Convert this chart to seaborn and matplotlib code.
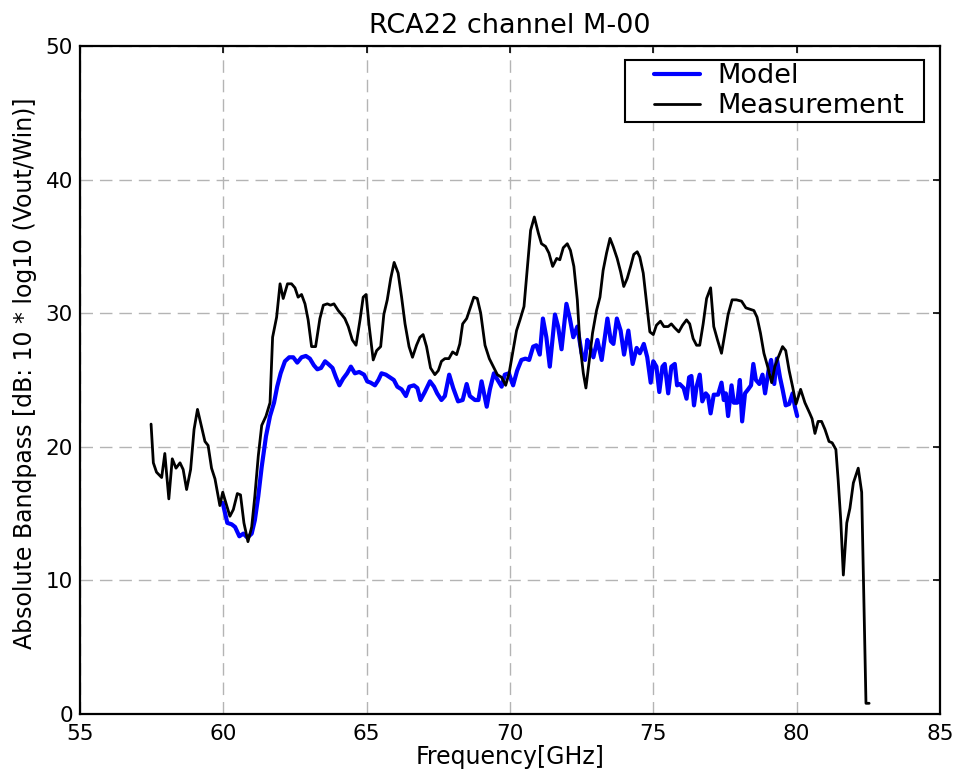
import matplotlib
matplotlib.use("Agg")
import matplotlib.pyplot as plt
from matplotlib.lines import Line2D
from matplotlib.legend_handler import HandlerLine2D
import seaborn as sns
import pandas as pd

# Measured bandpass (frequency in GHz, dB)
meas_freq = [57.48, 57.56, 57.67, 57.85, 57.96, 58.10, 58.22, 58.35, 58.49, 58.60,
             58.72, 58.86, 58.98, 59.10, 59.24, 59.36, 59.47, 59.59, 59.71, 59.88,
             59.98, 60.09, 60.23, 60.35, 60.49, 60.60, 60.72, 60.86, 60.99, 61.10,
             61.22, 61.34, 61.49, 61.63, 61.72, 61.86, 61.98, 62.09, 62.24, 62.38,
             62.50, 62.61, 62.73, 62.85, 62.96, 63.08, 63.22, 63.37, 63.49, 63.63,
             63.74, 63.86, 64.01, 64.13, 64.24, 64.36, 64.50, 64.63, 64.77, 64.88,
             64.98, 65.09, 65.23, 65.35, 65.49, 65.60, 65.72, 65.84, 65.96, 66.10,
             66.22, 66.34, 66.48, 66.60, 66.74, 66.86, 66.97, 67.09, 67.23, 67.38,
             67.50, 67.61, 67.73, 67.87, 68.00, 68.14, 68.25, 68.35, 68.49, 68.63,
             68.74, 68.86, 68.98, 69.13, 69.28, 69.42, 69.56, 69.71, 69.85, 69.97,
             70.11, 70.23, 70.35, 70.49, 70.58, 70.72, 70.85, 70.99, 71.10, 71.24,
             71.36, 71.49, 71.63, 71.74, 71.86, 72.00, 72.11, 72.23, 72.35, 72.44,
             72.56, 72.65, 72.77, 72.88, 73.02, 73.14, 73.25, 73.37, 73.49, 73.60,
             73.74, 73.86, 73.97, 74.09, 74.21, 74.32, 74.44, 74.53, 74.65, 74.77,
             74.88, 75.00, 75.11, 75.25, 75.37, 75.52, 75.63, 75.75, 75.89, 76.02,
             76.16, 76.27, 76.39, 76.51, 76.62, 76.74, 76.86, 77.00, 77.11, 77.24,
             77.38, 77.50, 77.61, 77.75, 77.90, 78.08, 78.23, 78.37, 78.51, 78.62,
             78.74, 78.86, 78.99, 79.13, 79.24, 79.36, 79.51, 79.62, 79.74, 79.86,
             79.98, 80.14, 80.29, 80.46, 80.54, 80.64, 80.75, 80.87, 80.99, 81.13,
             81.24, 81.37, 81.45, 81.54, 81.63, 81.75, 81.86, 81.98, 82.15, 82.27,
             82.35, 82.42, 82.53]
meas_db = [21.7, 18.8, 18.1, 17.7, 19.5, 16.1, 19.1, 18.4, 18.8, 18.3,
           16.8, 18.3, 21.3, 22.8, 21.5, 20.4, 20.1, 18.4, 17.6, 15.6,
           16.6, 15.8, 14.8, 15.3, 16.5, 16.4, 14.3, 12.9, 14.0, 16.3,
           19.3, 21.6, 22.3, 23.3, 28.2, 29.7, 32.2, 31.1, 32.2, 32.2,
           31.9, 31.2, 31.4, 30.7, 29.5, 27.5, 27.5, 29.6, 30.6, 30.7,
           30.6, 30.7, 30.2, 29.9, 29.6, 29.0, 28.0, 27.6, 29.5, 31.2,
           31.4, 29.0, 26.5, 27.2, 27.5, 29.9, 31.0, 32.6, 33.8, 33.0,
           31.2, 29.2, 27.5, 26.7, 27.6, 28.2, 28.4, 27.5, 25.9, 25.4,
           25.7, 26.4, 26.6, 26.6, 27.1, 26.9, 27.7, 29.2, 29.6, 30.5,
           31.2, 31.1, 30.0, 27.6, 26.6, 26.0, 25.4, 25.2, 24.6, 25.5,
           27.2, 28.7, 29.5, 30.5, 32.7, 36.2, 37.2, 36.0, 35.2, 35.0,
           34.5, 33.5, 34.1, 34.0, 34.9, 35.2, 34.7, 33.5, 31.0, 27.7,
           25.5, 24.4, 26.5, 28.5, 30.2, 31.2, 33.2, 34.5, 35.6, 35.0,
           34.1, 33.1, 32.0, 32.6, 33.5, 34.4, 34.6, 34.2, 33.0, 30.7,
           28.6, 28.4, 29.1, 29.4, 29.0, 29.0, 29.2, 28.9, 28.6, 29.1,
           29.5, 29.2, 28.1, 27.6, 27.6, 29.2, 31.1, 31.9, 29.0, 28.0,
           27.0, 28.5, 29.9, 31.0, 31.0, 30.9, 30.4, 30.3, 30.2, 29.7,
           28.5, 27.0, 26.0, 24.8, 26.0, 26.7, 27.5, 27.2, 25.7, 24.5,
           23.2, 24.3, 23.3, 22.5, 22.1, 21.0, 21.9, 21.9, 21.3, 20.4,
           20.3, 19.8, 17.5, 14.5, 10.4, 14.3, 15.4, 17.3, 18.4, 16.6,
           8.3, 0.8, 0.8]

# Model bandpass (frequency in GHz, dB)
model_freq = [59.98, 60.14, 60.29, 60.41, 60.56, 60.70, 60.84, 60.99, 61.10, 61.22,
              61.34, 61.49, 61.63, 61.77, 61.88, 62.00, 62.15, 62.30, 62.44, 62.58,
              62.73, 62.88, 63.02, 63.16, 63.28, 63.41, 63.55, 63.66, 63.81, 63.93,
              64.05, 64.18, 64.32, 64.45, 64.59, 64.74, 64.91, 65.02, 65.14, 65.29,
              65.41, 65.52, 65.67, 65.81, 65.95, 66.07, 66.22, 66.37, 66.49, 66.65,
              66.77, 66.88, 67.03, 67.21, 67.35, 67.46, 67.61, 67.73, 67.88, 68.02,
              68.19, 68.35, 68.49, 68.60, 68.78, 68.90, 69.01, 69.19, 69.30, 69.44,
              69.57, 69.71, 69.82, 69.96, 70.11, 70.25, 70.40, 70.54, 70.67, 70.81,
              70.92, 71.04, 71.15, 71.27, 71.39, 71.57, 71.68, 71.80, 71.97, 72.09,
              72.21, 72.35, 72.50, 72.62, 72.70, 72.79, 72.91, 73.05, 73.20, 73.40,
              73.52, 73.61, 73.73, 73.86, 73.98, 74.13, 74.28, 74.42, 74.53, 74.67,
              74.79, 74.91, 75.00, 75.11, 75.21, 75.32, 75.40, 75.52, 75.63, 75.75,
              75.83, 75.92, 76.06, 76.16, 76.25, 76.33, 76.42, 76.51, 76.62, 76.71,
              76.83, 76.91, 77.00, 77.11, 77.26, 77.38, 77.46, 77.53, 77.61, 77.73,
              77.81, 77.93, 78.02, 78.10, 78.20, 78.31, 78.41, 78.49, 78.58, 78.70,
              78.81, 78.90, 79.02, 79.11, 79.22, 79.31, 79.42, 79.51, 79.62, 79.74,
              79.86, 79.94, 80.02]
model_db = [15.8, 14.3, 14.2, 14.0, 13.3, 13.5, 13.2, 13.5, 14.5, 16.3,
            18.5, 20.8, 22.3, 23.3, 24.5, 25.5, 26.4, 26.7, 26.7, 26.3,
            26.7, 26.8, 26.6, 26.1, 25.8, 25.9, 26.4, 26.2, 25.9, 25.2,
            24.6, 25.1, 25.5, 26.0, 25.5, 25.6, 25.4, 24.9, 24.8, 24.6,
            25.0, 25.5, 25.4, 25.2, 25.0, 24.5, 24.3, 23.8, 24.5, 24.6,
            24.4, 23.5, 24.1, 24.9, 24.5, 24.0, 23.5, 23.8, 25.4, 24.4,
            23.4, 23.5, 24.7, 23.8, 23.5, 23.5, 24.9, 23.0, 24.3, 25.5,
            25.0, 24.5, 25.4, 25.5, 24.6, 25.7, 26.5, 26.6, 26.5, 27.5,
            27.6, 26.9, 29.6, 28.2, 26.0, 29.9, 29.0, 27.3, 30.7, 29.6,
            28.2, 29.0, 27.0, 26.5, 28.0, 27.5, 26.7, 28.0, 26.5, 29.6,
            27.9, 27.7, 29.6, 28.7, 26.9, 28.7, 26.2, 27.4, 27.0, 27.7,
            26.7, 24.8, 26.4, 26.0, 24.1, 26.0, 26.2, 24.0, 26.0, 26.2,
            24.6, 24.7, 24.4, 23.6, 25.2, 25.3, 23.1, 24.5, 25.4, 23.4,
            24.0, 23.8, 22.5, 23.9, 23.9, 24.8, 23.5, 24.0, 22.3, 24.6,
            23.3, 23.3, 25.0, 21.9, 24.0, 24.3, 24.6, 26.2, 25.0, 24.7,
            25.4, 24.0, 25.7, 26.5, 24.7, 26.6, 25.2, 24.3, 23.1, 23.2,
            24.0, 23.0, 22.3]

x_ticks = [55, 60, 65, 70, 75, 80, 85]
y_ticks = [0, 10, 20, 30, 40, 50]

sns.set_style("white")
plt.rcParams["font.family"] = ["DejaVu Sans"]
plt.rcParams["text.color"] = "black"
plt.rcParams["axes.labelcolor"] = "black"
plt.rcParams["xtick.color"] = "black"
plt.rcParams["ytick.color"] = "black"

model_df = pd.DataFrame({"freq": model_freq, "db": model_db})
meas_df = pd.DataFrame({"freq": meas_freq, "db": meas_db})

fig = plt.figure(figsize=(9.6, 7.77), dpi=100)
ax = fig.add_axes([0.0833, 0.0811, 0.8958, 0.8597])

sns.lineplot(data=model_df, x="freq", y="db", ax=ax, color="#0000ff",
             linewidth=3.0, label="Model", sort=False)
sns.lineplot(data=meas_df, x="freq", y="db", ax=ax, color="black",
             linewidth=2.0, label="Measurement", sort=False)

ax.set_xlim(55, 85)
ax.set_ylim(0, 50)
ax.set_xticks(x_ticks)
ax.set_yticks(y_ticks)
ax.grid(True, color="#b4b4b4", linestyle=(0, (9, 5)), linewidth=1.0)

ax.tick_params(direction="in", length=5, width=1.2, top=True, right=True,
               labelsize=15.5, colors="black")
ax.tick_params(axis="x", pad=7)
ax.tick_params(axis="y", pad=5)
for sp in ax.spines.values():
    sp.set_color("black")
    sp.set_linewidth(1.6)

ax.set_title("RCA22 channel M-00", fontsize=19.5, pad=9, color="black")
ax.set_xlabel("Frequency[GHz]", fontsize=17, labelpad=1)
ax.set_ylabel("Absolute Bandpass [dB: 10 * log10 (Vout/Win)]", fontsize=17, labelpad=6)
ax.yaxis.label.set_y(0.51)

# Legend box with short, inset handle lines
leg = ax.legend(loc="upper left", bbox_to_anchor=(0.6334, 0.9786, 0.348, 0.0),
                mode="expand", borderaxespad=0.0, fontsize=19.5, frameon=True,
                fancybox=False, borderpad=0.1, labelspacing=0.15,
                handlelength=3.66, handletextpad=-0.32,
                handler_map={Line2D: HandlerLine2D(marker_pad=0.97, numpoints=2)})
leg.get_frame().set_edgecolor("black")
leg.get_frame().set_linewidth(1.5)
leg.get_frame().set_alpha(1.0)

fig.savefig("out.png", dpi=100)
